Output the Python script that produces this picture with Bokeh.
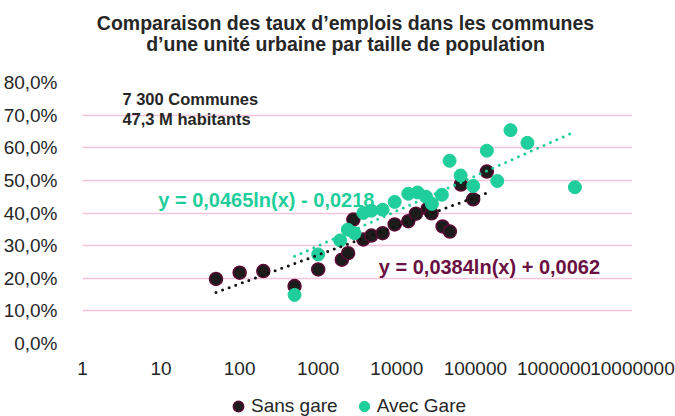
from bokeh.plotting import figure
from bokeh.layouts import column
from bokeh.models import (Range1d, FixedTicker, CustomJSTickFormatter, Label,
                          Legend, LegendItem, ColumnDataSource)
from bokeh.embed import file_html
from bokeh.resources import INLINE
import math

# ---- data ----
sans_gare_pop = [50, 100, 200, 500, 1000, 2000, 2400, 2800, 3750, 4750, 6600,
                 9400, 14000, 17500, 24700, 27700, 38300, 47400, 65500, 93800, 140000]
sans_gare_taux = [19.8, 21.7, 22.2, 17.6, 22.7, 25.7, 27.7, 38.0, 31.9, 33.1, 33.8,
                  36.5, 37.5, 39.8, 41.3, 39.9, 35.9, 34.3, 48.7, 44.2, 52.7]

avec_gare_pop = [500, 1000, 1900, 2380, 2900, 3750, 4750, 6600, 9400, 14000, 18400,
                 23500, 28000, 37500, 47000, 65000, 94000, 140000, 190000, 280000,
                 460000, 1850000]
avec_gare_taux = [14.9, 27.3, 31.6, 34.9, 33.8, 40.0, 40.7, 41.0, 43.4, 45.9, 46.3,
                  45.0, 42.8, 45.6, 56.0, 51.5, 48.3, 59.1, 49.8, 65.4, 61.5, 47.9]

# trend-line coefficients as displayed (y = a ln(x) + b)
sans_gare_coef = (0.0384, 0.0062)
avec_gare_coef = (0.0465, -0.0218)

x_ticks = [1, 10, 100, 1000, 10000, 100000, 1000000, 10000000]
y_ticks = [0.0, 0.1, 0.2, 0.3, 0.4, 0.5, 0.6, 0.7, 0.8]

title_lines = ["Comparaison des taux d\u2019emplois dans les communes",
               "d\u2019une unit\u00e9 urbaine par taille de population"]
note_lines = ["7 300 Communes", "47,3 M habitants"]
eq_sans = "y = 0,0384ln(x) + 0,0062"
eq_avec = "y = 0,0465ln(x) - 0,0218"
series_names = ["Sans gare", "Avec Gare"]

# ---- styles ----
GREEN = "#1fce9a"
DARK = "#1c1c1c"
MAROON = "#5c0b35"
MAROON_TXT = "#6a1042"
GRID = "#f5c4dc"
FONT = "Liberation Sans"
TXT = "#262626"
W = 675


def bare_figure(height):
    fig = figure(width=W, height=height, x_range=Range1d(0, 1), y_range=Range1d(0, 1),
                 x_axis_location=None, y_axis_location=None,
                 min_border=0, min_border_left=0, min_border_right=0,
                 min_border_top=0, min_border_bottom=0,
                 output_backend="svg", toolbar_location=None)
    fig.grid.visible = False
    fig.outline_line_color = None
    return fig


# ---- title figure (its frame is aligned with the main frame, left edge at 81px) ----
tf = bare_figure(60)
for t, yy in zip(title_lines, [38, 17]):
    tf.add_layout(Label(x=263, y=yy, x_units="screen", y_units="screen", text=t,
                        text_font=FONT, text_font_size="19.5px", text_font_style="bold",
                        text_color=TXT, text_align="center", text_baseline="middle"))

# ---- main figure ----
p = figure(width=W, height=330, x_axis_type="log",
           x_range=Range1d(1, 1e7), y_range=Range1d(0, 0.8),
           output_backend="svg", toolbar_location=None,
           min_border_left=81, min_border_right=43,
           min_border_top=22, min_border_bottom=47)
p.outline_line_color = None

xt = FixedTicker(ticks=x_ticks, minor_ticks=[])
yt = FixedTicker(ticks=y_ticks, minor_ticks=[])
p.xaxis[0].ticker = xt
p.yaxis[0].ticker = yt
p.xgrid.visible = False
p.ygrid[0].ticker = yt
p.ygrid.grid_line_color = GRID
p.ygrid.grid_line_width = 1.5

p.xaxis[0].formatter = CustomJSTickFormatter(code="return tick.toFixed(0);")
p.yaxis[0].formatter = CustomJSTickFormatter(
    code="return (tick*100).toFixed(1).replace('.', ',') + '%';")
for ax in (p.xaxis[0], p.yaxis[0]):
    ax.axis_line_color = None
    ax.major_tick_line_color = None
    ax.minor_tick_line_color = None
    ax.major_label_text_font = FONT
    ax.major_label_text_font_size = "19px"
    ax.major_label_text_color = TXT
p.xaxis[0].major_label_standoff = 12
p.yaxis[0].major_label_standoff = 19

src_sans = ColumnDataSource(dict(x=sans_gare_pop, y=[v / 100 for v in sans_gare_taux]))
src_avec = ColumnDataSource(dict(x=avec_gare_pop, y=[v / 100 for v in avec_gare_taux]))

sans_style = dict(fill_color=DARK, line_color=MAROON, line_width=1.5)
avec_style = dict(fill_color=GREEN, line_color=GREEN, line_width=1)

p.scatter("x", "y", source=src_sans, size=13, **sans_style)
p.scatter("x", "y", source=src_avec, size=13, **avec_style)


def trend(pop, coef):
    xs = [min(pop), max(pop)]
    ys = [coef[0] * math.log(v) + coef[1] for v in xs]
    return xs, ys


xs, ys = trend(sans_gare_pop, sans_gare_coef)
p.line(xs, ys, line_color="#111111", line_width=3, line_dash="0 7", line_cap="round")
xs, ys = trend(avec_gare_pop, avec_gare_coef)
p.line(xs, ys, line_color=GREEN, line_width=3, line_dash="0 7", line_cap="round")

# equations
p.add_layout(Label(x=9.2, y=0.441, text=eq_avec, text_font=FONT, text_font_style="bold",
                   text_font_size="20px", text_color=GREEN, text_baseline="middle"))
p.add_layout(Label(x=5900, y=0.233, text=eq_sans, text_font=FONT, text_font_style="bold",
                   text_font_size="20px", text_color=MAROON_TXT, text_baseline="middle"))
# notes
for t, yy in zip(note_lines, [0.750, 0.688]):
    p.add_layout(Label(x=3.22, y=yy, text=t, text_font=FONT, text_font_style="bold",
                       text_font_size="16.5px", text_color=TXT, text_baseline="middle"))

# ---- legend figure (series data lie outside its view; only the legend shows) ----
lf = bare_figure(26)
l_sans = lf.scatter("x", "y", source=src_sans, **sans_style)
l_avec = lf.scatter("x", "y", source=src_avec, **avec_style)
legend = Legend(items=[LegendItem(label=series_names[0], renderers=[l_sans]),
                       LegendItem(label=series_names[1], renderers=[l_avec])],
                location=(143, -3), orientation="horizontal",
                label_text_font=FONT, label_text_font_size="19px", label_text_color=TXT,
                glyph_width=26, glyph_height=26, label_height=26, label_standoff=0,
                spacing=13, padding=0, margin=0, border_line_color=None,
                background_fill_alpha=0)
lf.add_layout(legend)

layout = column(tf, p, lf, spacing=0)
open("out.html", "w").write(file_html(layout, INLINE))
